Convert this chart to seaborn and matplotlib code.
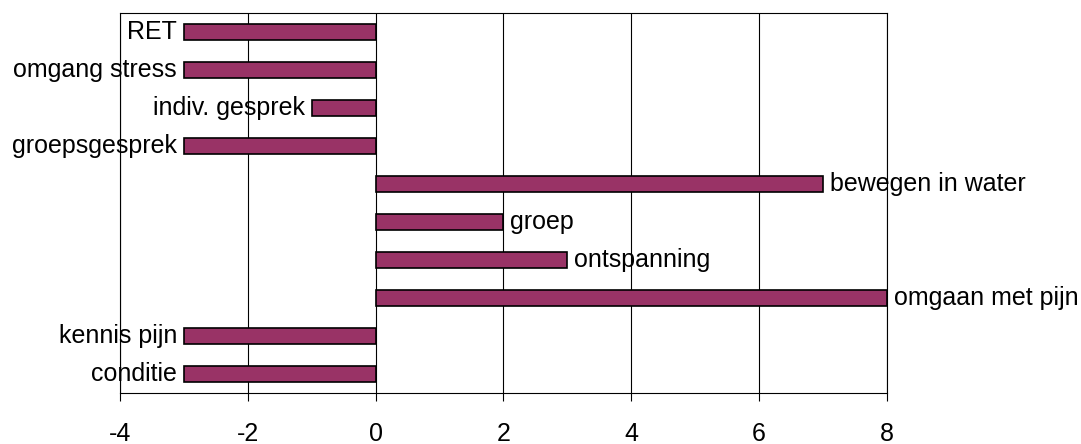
import pandas as pd
import matplotlib
matplotlib.use('Agg')
import matplotlib.pyplot as plt
import seaborn as sns

# chart data, top to bottom
categories = ['RET', 'omgang stress', 'indiv. gesprek', 'groepsgesprek', 'bewegen in water',
              'groep', 'ontspanning', 'omgaan met pijn', 'kennis pijn', 'conditie']
values = [-3, -3, -1, -3, 7, 2, 3, 8, -3, -3]
x_ticks = [-4, -2, 0, 2, 4, 6, 8]

df = pd.DataFrame({'item': categories, 'score': values})

sns.set_style('white')
plt.rcParams['font.family'] = ['Liberation Sans', 'DejaVu Sans']
plt.rcParams['text.color'] = 'black'
plt.rcParams['xtick.color'] = 'black'
plt.rcParams['xtick.labelcolor'] = 'black'

fig = plt.figure(figsize=(10.81, 4.44), dpi=100)
ax = fig.add_axes([0.111, 0.115, 0.7095, 0.856])

sns.barplot(data=df, x='score', y='item', orient='h', color='#993366', saturation=1,
            edgecolor='black', linewidth=1.2, width=0.42, ax=ax, zorder=3)

ax.set_xlim(-4, 8)
ax.set_ylim(len(categories) - 0.5, -0.5)
ax.set_xticks(x_ticks)
ax.set_xticklabels([str(t) for t in x_ticks], fontsize=18, color='black')
ax.set_yticks([])
ax.set_xlabel('')
ax.set_ylabel('')
ax.xaxis.grid(True, color='black', linewidth=0.8)
ax.set_axisbelow(True)
ax.tick_params(axis='x', direction='out', length=6, width=0.8, color='black', pad=15, bottom=True)
for s in ax.spines.values():
    s.set_color('black')
    s.set_linewidth(0.8)

# data labels next to the end of each bar
for i, (name, v) in enumerate(zip(categories, values)):
    if v < 0:
        ax.annotate(name, (v, i), xytext=(-5, 0), textcoords='offset points',
                    ha='right', va='center', fontsize=18, color='black', zorder=5,
                    annotation_clip=False)
    else:
        ax.annotate(name, (v, i), xytext=(5, 0), textcoords='offset points',
                    ha='left', va='center', fontsize=18, color='black', zorder=5,
                    annotation_clip=False)

fig.savefig('out.png', dpi=100)
